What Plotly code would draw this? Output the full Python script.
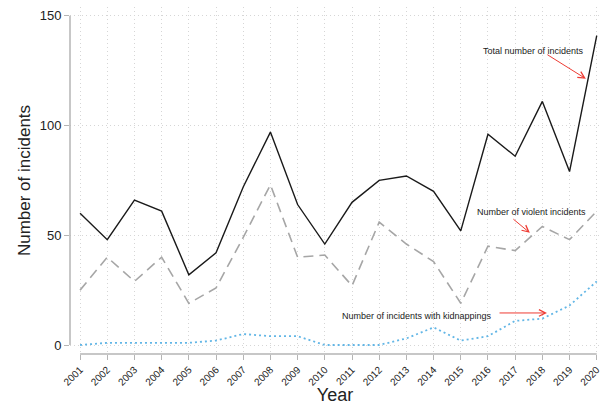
import plotly.graph_objects as go

years = list(range(2001, 2021))
total = [60, 48, 66, 61, 32, 42, 72, 97, 64, 46, 65, 75, 77, 70, 52, 96, 86, 111, 79, 141]
violent = [25, 40, 29, 40, 19, 26, 49, 73, 40, 41, 27, 56, 46, 38, 19, 45, 43, 54, 48, 61]
kidnap = [0, 1, 1, 1, 1, 2, 5, 4, 4, 0, 0, 0, 3, 8, 2, 4, 11, 12, 18, 29]
yticks = [0, 50, 100, 150]

font_family = "Liberation Sans, Arial, Helvetica, sans-serif"

fig = go.Figure()
fig.add_trace(go.Scatter(x=years, y=kidnap, mode="lines",
                         line=dict(color="#62b6e6", width=1.8, dash="2px,3px")))
fig.add_trace(go.Scatter(x=years, y=violent, mode="lines",
                         line=dict(color="#a6a6a6", width=1.6, dash="10px,6px")))
fig.add_trace(go.Scatter(x=years, y=total, mode="lines",
                         line=dict(color="#1a1a1a", width=1.4)))

grid = "#d6d6d6"
fig.update_layout(
    width=603, height=405,
    margin=dict(l=70, r=3, t=7, b=51),
    paper_bgcolor="white", plot_bgcolor="white",
    showlegend=False,
    font=dict(family=font_family, color="#222"),
    xaxis=dict(range=[2000.63, 2020.12], tickmode="array", tickvals=years,
               ticktext=[str(y) for y in years], tickangle=-45,
               tickfont=dict(size=10), ticks="outside", ticklen=5,
               tickcolor="#b5b5b5", showline=False, zeroline=False,
               showgrid=True, gridcolor=grid, griddash="1px,3px", gridwidth=1,
               automargin=False,
               title=dict(text="Year", font=dict(size=18), standoff=4)),
    yaxis=dict(range=[-4.1, 154], tickmode="array", tickvals=yticks,
               tickfont=dict(size=13), ticks="outside", ticklen=5,
               tickcolor="#b5b5b5", showline=False, zeroline=False,
               showgrid=True, gridcolor=grid, griddash="1px,3px", gridwidth=1,
               automargin=False,
               title=dict(text="Number of incidents", font=dict(size=17), standoff=4)),
)

# Stata-style axis lines spanning only the tick range
fig.add_shape(type="line", xref="paper", yref="y", x0=0, x1=0,
              y0=yticks[0], y1=yticks[-1], line=dict(color="#b5b5b5", width=1.5))
fig.add_shape(type="line", xref="x", yref="paper", x0=years[0], x1=years[-1],
              y0=0, y1=0, line=dict(color="#b5b5b5", width=1.5))

ann_font = dict(size=9, color="#222")
arrow = dict(text="", showarrow=True, arrowhead=5, arrowsize=1.3, arrowwidth=1,
             arrowcolor="#ee3b33", axref="x", ayref="y")
fig.add_annotation(x=2019.6, y=121.3, ax=2018.13, ay=132.7, **arrow)
fig.add_annotation(x=2017.68, y=134, text="Total number of incidents", showarrow=False,
                   font=ann_font)
fig.add_annotation(x=2017.54, y=51.1, ax=2016.88, ay=57.9, **arrow)
fig.add_annotation(x=2017.6, y=60.5, text="Number of violent incidents", showarrow=False,
                   font=ann_font)
fig.add_annotation(x=2018.17, y=14.6, ax=2016.37, ay=14.6, **arrow)
fig.add_annotation(x=2013.4, y=13.2, text="Number of incidents with kidnappings",
                   showarrow=False, font=ann_font)

fig.write_html("out.html", config={"displayModeBar": False},
               post_script="document.body.style.margin='0';")
